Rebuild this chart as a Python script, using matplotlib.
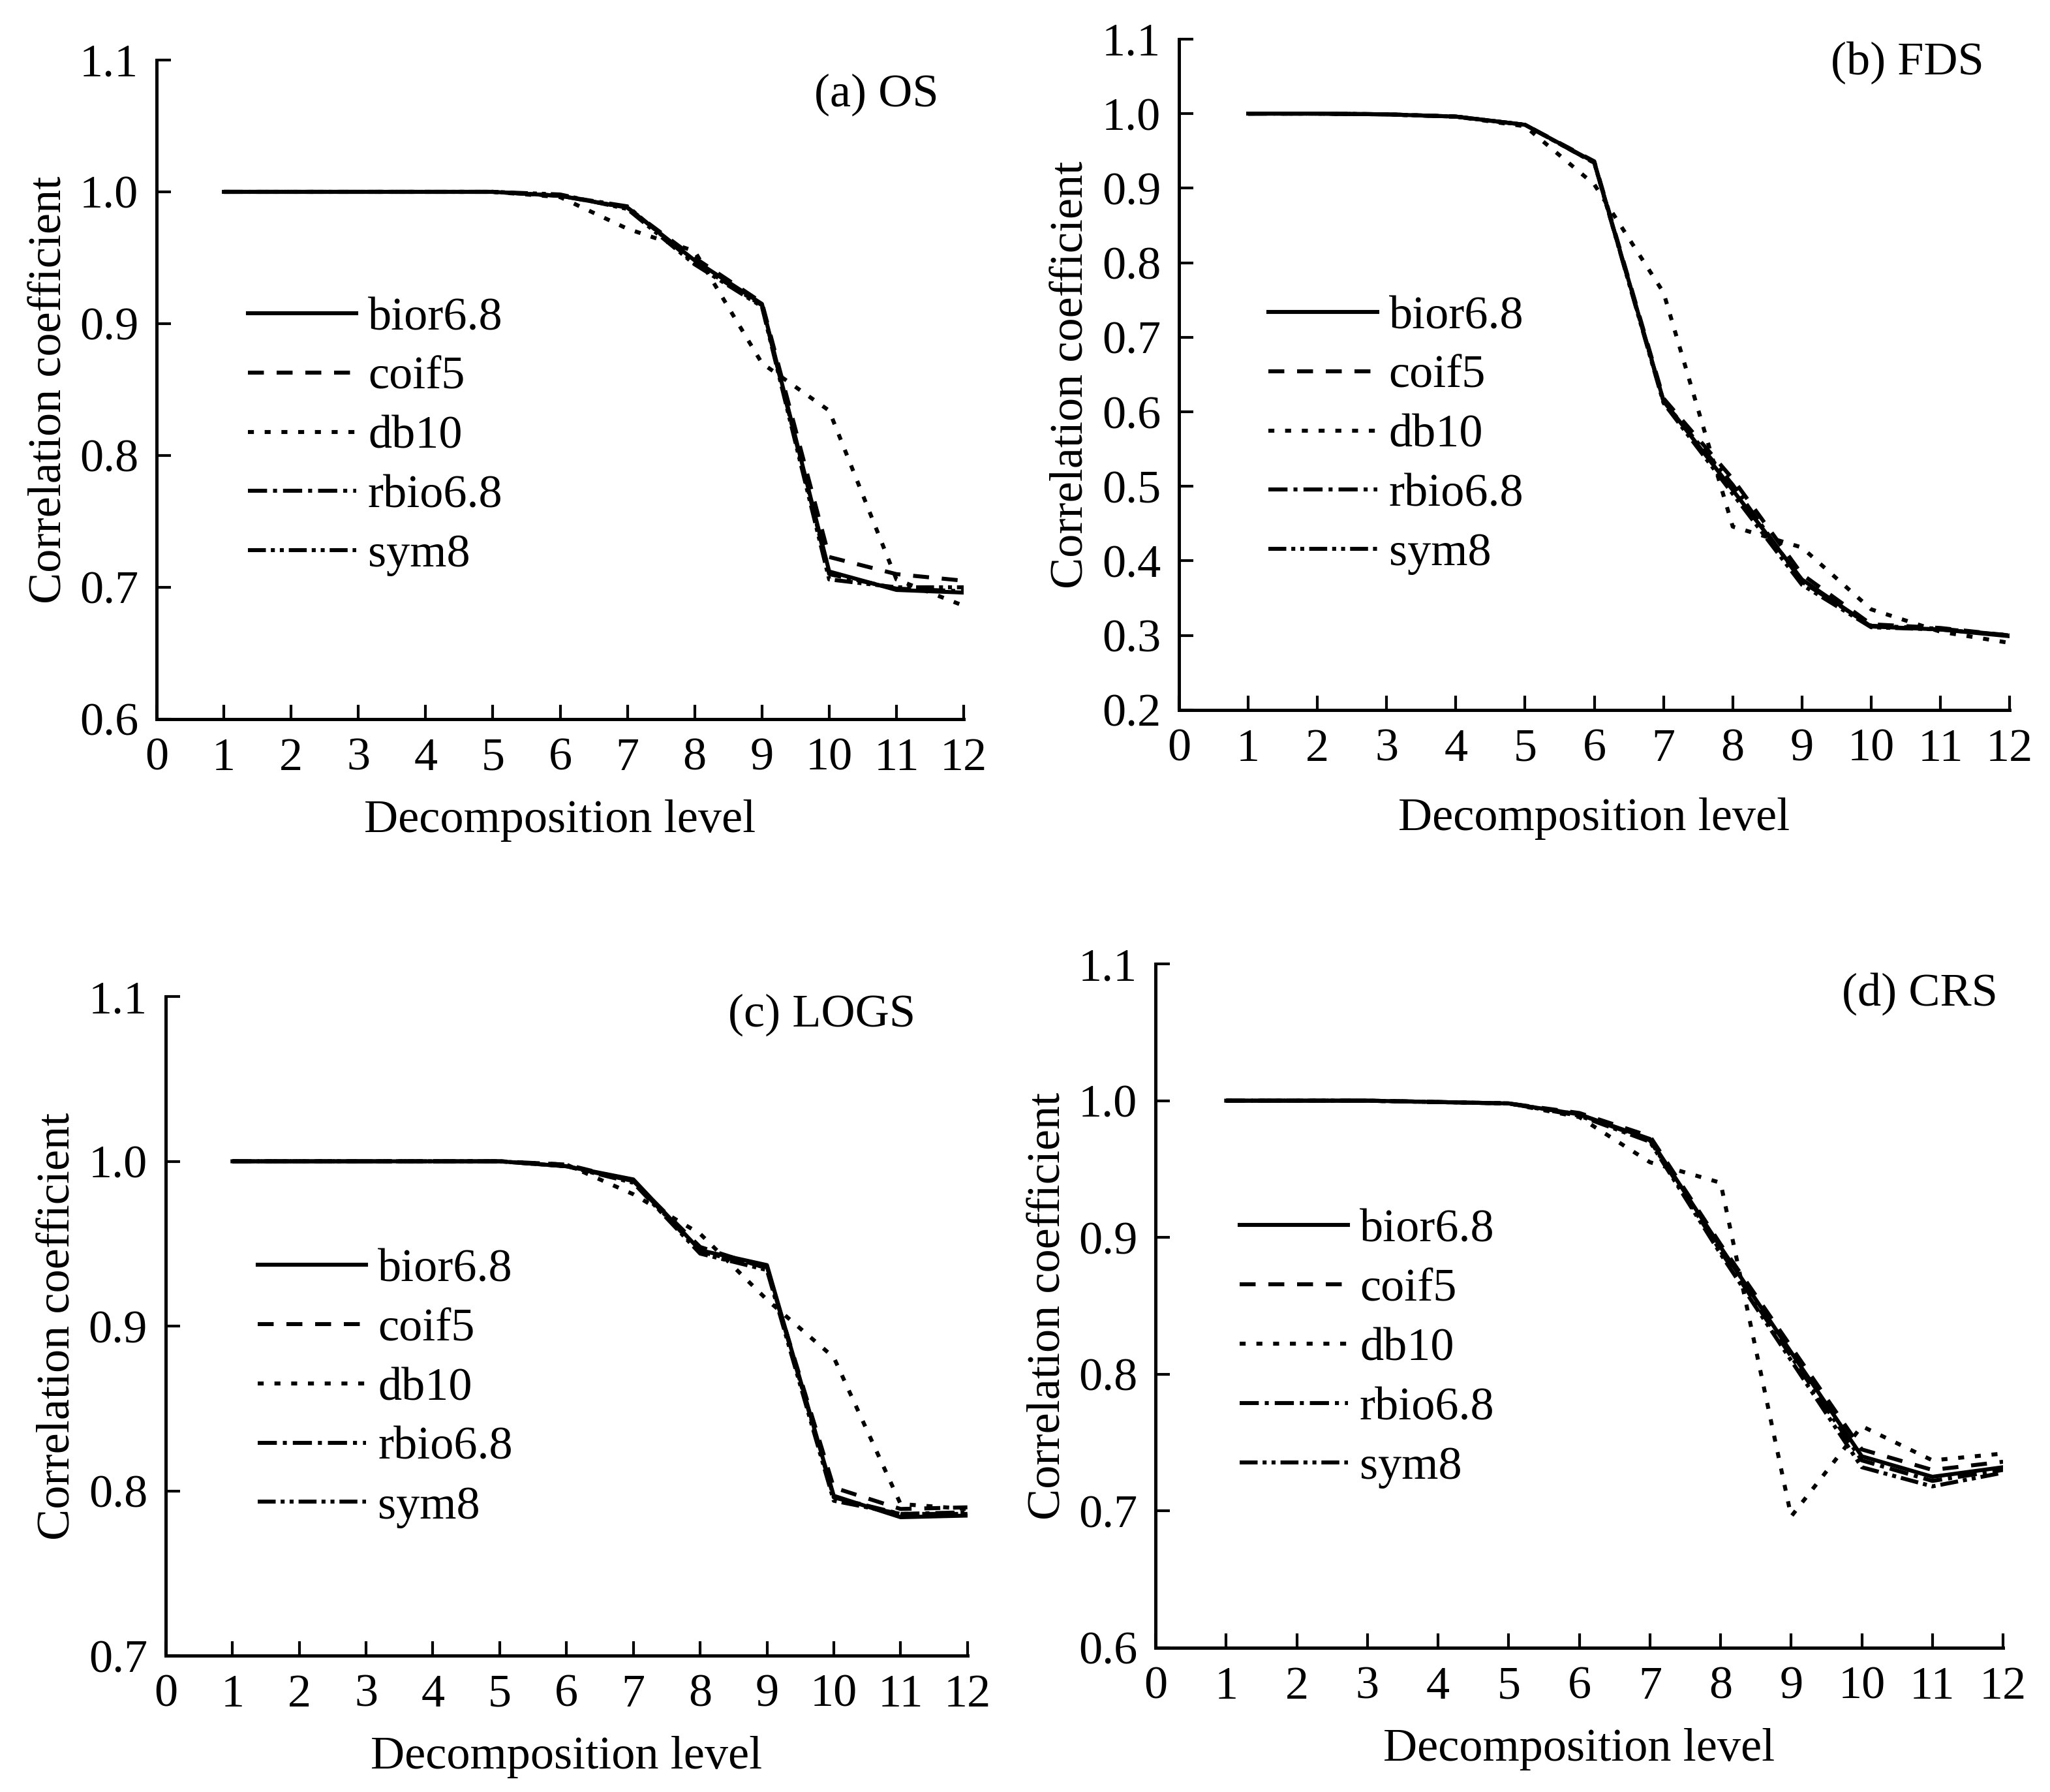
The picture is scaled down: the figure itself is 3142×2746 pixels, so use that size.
import matplotlib
matplotlib.use("Agg")
import matplotlib.pyplot as plt

plt.rcParams["font.family"] = ["Liberation Serif", "DejaVu Serif"]

levels = list(range(1, 13))
wavelets = ["bior6.8", "coif5", "db10", "rbio6.8", "sym8"]

# (a) OS
os_bior = [1.0, 1.0, 1.0, 1.0, 1.0, 0.997, 0.988, 0.948, 0.915, 0.712, 0.698, 0.696]
os_coif = [1.0, 1.0, 1.0, 1.0, 1.0, 0.997, 0.988, 0.950, 0.916, 0.723, 0.710, 0.705]
os_db = [1.0, 1.0, 1.0, 1.0, 1.0, 0.996, 0.972, 0.955, 0.870, 0.834, 0.706, 0.686]
os_rbio = [1.0, 1.0, 1.0, 1.0, 1.0, 0.997, 0.989, 0.946, 0.914, 0.710, 0.699, 0.697]
os_sym = [1.0, 1.0, 1.0, 1.0, 1.0, 0.998, 0.987, 0.945, 0.913, 0.706, 0.700, 0.700]

# (b) FDS
fds_bior = [1.0, 1.0, 0.999, 0.996, 0.985, 0.935, 0.615, 0.495, 0.375, 0.312, 0.308, 0.299]
fds_coif = [1.0, 1.0, 0.999, 0.996, 0.985, 0.936, 0.618, 0.510, 0.382, 0.315, 0.310, 0.300]
fds_db = [1.0, 1.0, 0.999, 0.996, 0.983, 0.905, 0.760, 0.446, 0.418, 0.335, 0.305, 0.290]
fds_rbio = [1.0, 1.0, 0.999, 0.996, 0.985, 0.934, 0.614, 0.502, 0.372, 0.313, 0.309, 0.300]
fds_sym = [1.0, 1.0, 0.999, 0.996, 0.985, 0.934, 0.612, 0.490, 0.368, 0.311, 0.308, 0.300]

# (c) LOGS
logs_bior = [1.0, 1.0, 1.0, 1.0, 1.0, 0.997, 0.989, 0.946, 0.937, 0.797, 0.784, 0.785]
logs_coif = [1.0, 1.0, 1.0, 1.0, 1.0, 0.998, 0.988, 0.948, 0.935, 0.802, 0.789, 0.790]
logs_db = [1.0, 1.0, 1.0, 1.0, 1.0, 0.998, 0.980, 0.956, 0.916, 0.881, 0.792, 0.789]
logs_rbio = [1.0, 1.0, 1.0, 1.0, 1.0, 0.997, 0.988, 0.945, 0.936, 0.796, 0.786, 0.787]
logs_sym = [1.0, 1.0, 1.0, 1.0, 1.0, 0.997, 0.987, 0.944, 0.934, 0.794, 0.786, 0.786]

# (d) CRS
crs_bior = [1.0, 1.0, 1.0, 0.999, 0.998, 0.990, 0.972, 0.893, 0.816, 0.740, 0.725, 0.732]
crs_coif = [1.0, 1.0, 1.0, 0.999, 0.998, 0.991, 0.974, 0.895, 0.820, 0.745, 0.730, 0.736]
crs_db = [1.0, 1.0, 1.0, 0.999, 0.998, 0.988, 0.955, 0.940, 0.696, 0.762, 0.737, 0.742]
crs_rbio = [1.0, 1.0, 1.0, 0.999, 0.998, 0.990, 0.971, 0.890, 0.813, 0.737, 0.722, 0.730]
crs_sym = [1.0, 1.0, 1.0, 0.999, 0.998, 0.989, 0.970, 0.888, 0.810, 0.732, 0.718, 0.728]

styles = [
    "-",
    (0, (4, 3.2)),
    (0, (1.5, 2.7)),
    (0, (4.8, 1.5, 1, 1.5)),
    (0, (4.5, 1.25, 1, 1.25, 1, 1.25)),
]

panels = [
    # title, series, y-range, axes rect, legend anchor, title pos, xlabel pad
    ("(a) OS", [os_bior, os_coif, os_db, os_rbio, os_sym], (0.6, 1.1),
     [0.0764, 0.5987, 0.3937, 0.3678], (0.113, 0.641), (0.969, 0.947), 11),
    ("(b) FDS", [fds_bior, fds_coif, fds_db, fds_rbio, fds_sym], (0.2, 1.1),
     [0.5751, 0.6038, 0.4052, 0.3744], (0.108, 0.618), (0.969, 0.965), 15),
    ("(c) LOGS", [logs_bior, logs_coif, logs_db, logs_rbio, logs_sym], (0.7, 1.1),
     [0.0808, 0.0761, 0.3911, 0.3678], (0.115, 0.618), (0.935, 0.972), 11),
    ("(d) CRS", [crs_bior, crs_coif, crs_db, crs_rbio, crs_sym], (0.6, 1.1),
     [0.5637, 0.0805, 0.4134, 0.3816], (0.099, 0.642), (0.994, 0.956), 11),
]

fig = plt.figure(figsize=(15.71, 13.73), dpi=200)
fs = 26

for title, series, (ylo, yhi), rect, leg_xy, title_xy, xpad in panels:
    ax = fig.add_axes(rect)
    for name, vals, ls in zip(wavelets, series, styles):
        ax.plot(levels, vals, color="black", lw=2.2, ls=ls, label=name)
    ax.set_xlim(0, 12)
    ax.set_ylim(ylo, yhi)
    ax.set_xticks(range(0, 13))
    nt = int(round((yhi - ylo) / 0.1)) + 1
    yt = [round(ylo + 0.1 * i, 1) for i in range(nt)]
    ax.set_yticks(yt)
    ax.set_yticklabels([f"{v:.1f}" for v in yt])
    for s in ("top", "right"):
        ax.spines[s].set_visible(False)
    for s in ("left", "bottom"):
        ax.spines[s].set_linewidth(1.8)
    ax.tick_params(direction="in", length=8, width=1.5, labelsize=fs, pad=10)
    ax.set_xlabel("Decomposition level", fontsize=fs, labelpad=xpad)
    ax.set_ylabel("Correlation coefficient", fontsize=fs, labelpad=5)
    ax.text(title_xy[0], title_xy[1], title, transform=ax.transAxes,
            ha="right", va="center", fontsize=fs)
    ax.legend(loc="upper left", bbox_to_anchor=leg_xy, frameon=False,
              fontsize=fs, handlelength=2.3, handletextpad=0.25,
              labelspacing=0.35, borderpad=0, borderaxespad=0)

fig.savefig("out.png", dpi=200)
